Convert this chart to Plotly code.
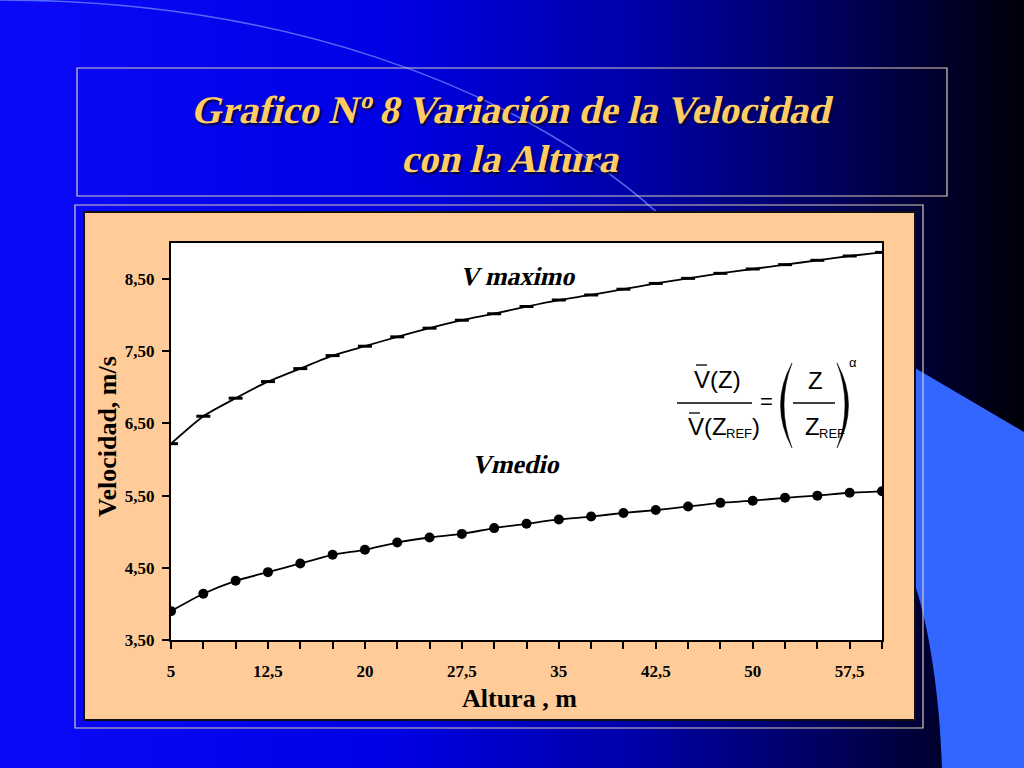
import base64
import plotly.graph_objects as go

# ---------------- data ----------------
alturas = [5, 7.5, 10, 12.5, 15, 17.5, 20, 22.5, 25, 27.5, 30, 32.5,
           35, 37.5, 40, 42.5, 45, 47.5, 50, 52.5, 55, 57.5, 60]
v_maximo = [6.22, 6.60, 6.85, 7.08, 7.26, 7.44, 7.57, 7.70, 7.82, 7.93, 8.02, 8.12,
            8.21, 8.28, 8.36, 8.44, 8.51, 8.58, 8.64, 8.70, 8.76, 8.82, 8.87]
v_medio = [3.90, 4.14, 4.32, 4.44, 4.56, 4.68, 4.75, 4.85, 4.92, 4.97, 5.05, 5.11,
           5.17, 5.21, 5.26, 5.30, 5.35, 5.40, 5.43, 5.47, 5.50, 5.54, 5.56]
x_tick_vals = [5, 12.5, 20, 27.5, 35, 42.5, 50, 57.5]
x_tick_labels = ["5", "12,5", "20", "27,5", "35", "42,5", "50", "57,5"]
y_tick_vals = [3.5, 4.5, 5.5, 6.5, 7.5, 8.5]
y_tick_labels = ["3,50", "4,50", "5,50", "6,50", "7,50", "8,50"]

titulo_1 = "Grafico Nº 8 Variación de la Velocidad"
titulo_2 = "con la Altura"
eje_x = "Altura , m"
eje_y = "Velocidad, m/s"
serie_max = "V maximo"
serie_medio = "Vmedio"

# ---------------- geometry helpers ----------------
W, H = 1024, 768
L, R, T, B = 171, 882, 243, 640


def px(x):
    return (x - L) / (R - L)


def py(y):
    return (B - y) / (B - T)


SERIF = "Liberation Serif, Times New Roman, DejaVu Serif, serif"
SANS = "Liberation Sans Narrow, Liberation Sans, Arial, sans-serif"

# ---------------- background (slide) ----------------
svg = f"""<svg xmlns='http://www.w3.org/2000/svg' width='{W}' height='{H}' viewBox='0 0 {W} {H}'>
<defs><linearGradient id='g' x1='0' y1='0' x2='1' y2='0'>
<stop offset='0' stop-color='#0A0AF8'/>
<stop offset='0.38' stop-color='#0000E4'/>
<stop offset='0.62' stop-color='#0000A8'/>
<stop offset='0.82' stop-color='#00005A'/>
<stop offset='1' stop-color='#000008'/>
</linearGradient></defs>
<rect width='{W}' height='{H}' fill='url(#g)'/>
<path d='M915,368 L1024,432 L1024,768 L942,768 C940,700 930,630 915,585 Z' fill='#3366FF'/>
<path d='M0,0 C270,0 510,80 660,215' stroke='#6C8CFF' stroke-width='1.5' fill='none' opacity='0.75'/>
</svg>"""
svg_uri = "data:image/svg+xml;base64," + base64.b64encode(svg.encode()).decode()

fig = go.Figure()

fig.add_trace(go.Scatter(
    x=alturas, y=v_maximo, mode="lines+markers", name=serie_max,
    line=dict(color="black", width=1.8, shape="spline", smoothing=0.6),
    marker=dict(symbol="line-ew", size=10, color="black",
                line=dict(color="black", width=3)),
    showlegend=False, hoverinfo="skip"))
fig.add_trace(go.Scatter(
    x=alturas, y=v_medio, mode="lines+markers", name=serie_medio,
    line=dict(color="black", width=1.8, shape="spline", smoothing=0.6),
    marker=dict(symbol="circle", size=10, color="black"),
    showlegend=False, hoverinfo="skip"))

ticktext_x = []
for v in alturas:
    ticktext_x.append(x_tick_labels[x_tick_vals.index(v)] if v in x_tick_vals else "")

fig.update_xaxes(
    range=[5, 60], tickvals=alturas, ticktext=ticktext_x,
    showgrid=False, zeroline=False, showline=True, linecolor="black", linewidth=2,
    mirror=True, ticks="outside", ticklen=7, tickwidth=1.5, tickcolor="black",
    ticklabelstandoff=8,
    tickfont=dict(family=SERIF, size=17, color="black", weight="bold"))
fig.update_yaxes(
    range=[3.5, 9.0], tickvals=y_tick_vals, ticktext=y_tick_labels,
    showgrid=False, zeroline=False, showline=True, linecolor="black", linewidth=2,
    mirror=True, ticks="outside", ticklen=7, tickwidth=1.5, tickcolor="black",
    ticklabelstandoff=4,
    tickfont=dict(family=SERIF, size=17, color="black", weight="bold"))

shapes = []


def rect(x0, y0, x1, y1, fill=None, color=None, width=1.0):
    shapes.append(dict(type="rect", xref="paper", yref="paper",
                       x0=px(x0), x1=px(x1), y0=py(y1), y1=py(y0),
                       fillcolor=fill if fill else "rgba(0,0,0,0)",
                       line=dict(color=color if color else "rgba(0,0,0,0)", width=width),
                       layer="below"))


def hline(x0, x1, y, color="black", width=1.5, layer="above"):
    shapes.append(dict(type="line", xref="paper", yref="paper",
                       x0=px(x0), x1=px(x1), y0=py(y), y1=py(y),
                       line=dict(color=color, width=width), layer=layer))


def path(points_cmd, fill="black"):
    parts = []
    for cmd, pts in points_cmd:
        coords = " ".join(f"{px(x):.5f},{py(y):.5f}" for x, y in pts)
        parts.append(f"{cmd} {coords}")
    shapes.append(dict(type="path", xref="paper", yref="paper",
                       path=" ".join(parts) + " Z", fillcolor=fill,
                       line=dict(color=fill, width=0.5), layer="above"))


# title box and chart frames
rect(77, 68, 947, 196, color="#D8CCB8", width=1.2)
rect(75, 205, 923, 728, color="#D8CCB8", width=1.2)
rect(84, 212, 915, 720, fill="#FFCC99", color="#101010", width=2)
rect(L, T, R, B, fill="white", color="black", width=0)

# formula drawing parts
hline(677, 752, 403)              # fraction bar left
hline(793, 835, 403)              # fraction bar right
hline(696, 707, 365, width=1.3)   # overline numerator V
hline(689, 700, 413, width=1.3)   # overline denominator V
path([("M", [(792, 363)]), ("Q", [(769, 405), (792, 448)]), ("Q", [(776, 405), (792, 363)])])
path([("M", [(837, 363)]), ("Q", [(860, 405), (837, 448)]), ("Q", [(853, 405), (837, 363)])])

annotations = []


def text(x, y, s, size, family=SERIF, color="black", xanchor="center", bold=False,
         italic=False, angle=0, shadow=None):
    f = dict(family=family, size=size, color=color)
    if bold:
        f["weight"] = "bold"
    if italic:
        f["style"] = "italic"
    if shadow:
        f["shadow"] = shadow
    annotations.append(dict(x=px(x), y=py(y), xref="paper", yref="paper", text=s,
                            showarrow=False, xanchor=xanchor, yanchor="middle",
                            font=f, textangle=angle))


TITLE_SHADOW = "2px 2px 2px #000030"
text(513, 110, titulo_1, 39, color="#FFCC66", bold=True, italic=True, shadow=TITLE_SHADOW)
text(512, 158, titulo_2, 39, color="#FFCC66", bold=True, italic=True, shadow=TITLE_SHADOW)

text(519, 276, serie_max, 26, bold=True, italic=True)
text(517, 464, serie_medio, 26, bold=True, italic=True)

text(107, 437, eje_y, 26, bold=True, angle=-90)
text(519, 698, eje_x, 26, bold=True)

# formula text
text(717, 379, "V(Z)", 24, family=SANS)
text(686, 426, "V(Z", 24, family=SANS, xanchor="left")
text(724, 433, "REF", 13, family=SANS, xanchor="left")
text(750, 426, ")", 24, family=SANS, xanchor="left")
text(766, 401, "=", 22, family=SANS)
text(815, 380, "Z", 24, family=SANS)
text(803, 426, "Z", 24, family=SANS, xanchor="left")
text(817, 433, "REF", 13, family=SANS, xanchor="left")
text(853, 362, "α", 13, family=SANS)

fig.update_layout(
    width=W, height=H,
    margin=dict(l=L, r=W - R, t=T, b=H - B),
    paper_bgcolor="#0000C0", plot_bgcolor="white",
    shapes=shapes, annotations=annotations,
    images=[dict(source=svg_uri, xref="paper", yref="paper",
                 x=px(0), y=py(0), sizex=W / (R - L), sizey=H / (B - T),
                 xanchor="left", yanchor="top", sizing="stretch", layer="below")],
    showlegend=False,
)

# The serif family has no italic face installed here, so italic serif text is
# rendered as upright serif with an oblique (skew) transform instead of falling
# back to a sans-serif italic.
POST = """
document.body.style.margin='0';
document.body.style.overflow='hidden';
document.querySelectorAll('text.annotation-text').forEach(function(t){
  if (t.style.fontStyle === 'italic') {
    t.style.fontStyle = 'normal';
    var b = t.getBBox();
    var cx = b.x + b.width/2, cy = b.y + b.height/2;
    var old = t.getAttribute('transform') || '';
    t.setAttribute('transform', old + ' translate(' + cx + ',' + cy + ') skewX(-13) translate(' + (-cx) + ',' + (-cy) + ')');
  }
});
"""

fig.write_html("out.html", config={"displayModeBar": False}, post_script=POST)
